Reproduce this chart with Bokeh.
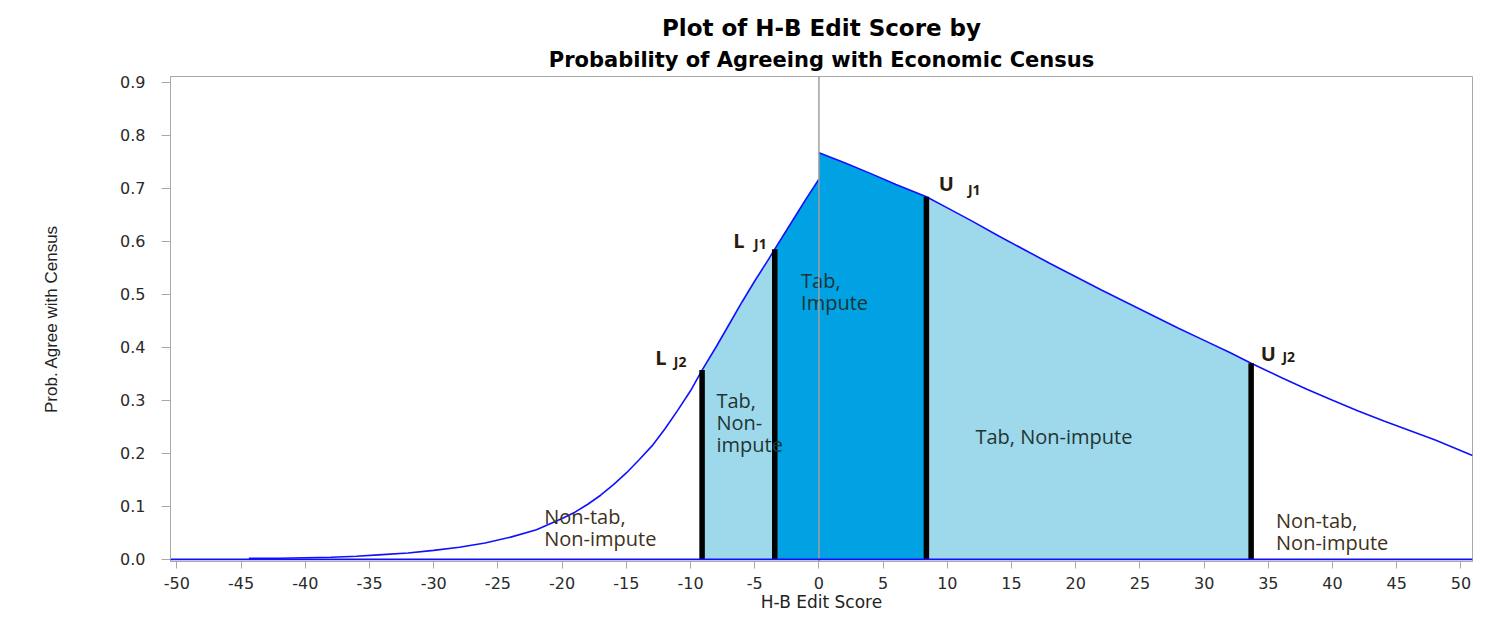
import numpy as np
from bokeh.plotting import figure
from bokeh.models import Range1d, FixedTicker, PrintfTickFormatter, Span, Title
from bokeh.core.properties import value
from bokeh.embed import file_html
from bokeh.resources import INLINE

# ---------------- data ----------------
title_line1 = "Plot of H-B Edit Score by"
title_line2 = "Probability of Agreeing with Economic Census"
x_label = "H-B Edit Score"
y_label = "Prob. Agree with Census"

# curve below zero score
left_x = [-44.4, -42, -40, -38, -36, -34, -32, -30, -28, -26, -24, -22, -20, -19, -18, -17, -16,
          -15, -14, -13, -12, -11, -10, -9.1, -8, -7, -6, -5, -4, -3.44, -2, -1, 0]
left_y = [0.002, 0.002, 0.003, 0.004, 0.006, 0.009, 0.012, 0.017, 0.023, 0.031, 0.042, 0.056, 0.077,
          0.089, 0.104, 0.121, 0.141, 0.163, 0.188, 0.214, 0.246, 0.281, 0.318, 0.357, 0.401, 0.443,
          0.485, 0.525, 0.563, 0.585, 0.641, 0.680, 0.717]
# curve above zero score
right_x = [0, 2, 4, 6, 8.37, 10, 12, 14, 16, 18, 20, 22, 24, 26, 28, 30, 32, 33.66, 36, 38, 40,
           42, 44, 46, 48, 50.9]
right_y = [0.767, 0.748, 0.728, 0.707, 0.684, 0.663, 0.637, 0.610, 0.584, 0.558, 0.533, 0.508, 0.484,
           0.460, 0.436, 0.413, 0.390, 0.370, 0.343, 0.321, 0.300, 0.280, 0.261, 0.243, 0.225, 0.196]

# cut-offs L_J2, L_J1, U_J1, U_J2
cut_letters = ["L", "L", "U", "U"]
cut_subs = ["J2", "J1", "J1", "J2"]
cut_x = [-9.1, -3.44, 8.37, 33.66]
cut_y = [0.357, 0.585, 0.684, 0.370]

x_ticks = [-50, -45, -40, -35, -30, -25, -20, -15, -10, -5, 0, 5, 10, 15, 20, 25, 30, 35, 40, 45, 50]
y_ticks = [0.0, 0.1, 0.2, 0.3, 0.4, 0.5, 0.6, 0.7, 0.8, 0.9]

region_labels = ["Non-tab,\nNon-impute", "Tab,\nNon-\nimpute", "Tab,\nImpute", "Tab, Non-impute", "Non-tab,\nNon-impute"]
# annotation anchors (top-left of each text block)
region_lx = [-21.4, -7.98, -1.39, 12.19, 35.6]
region_ly = [0.107, 0.326, 0.551, 0.258, 0.099]
letter_lx = [-12.74, -6.68, 9.33, 34.4]
letter_ly = [0.381, 0.601, 0.7095, 0.389]
sub_lx = [-11.3, -5.05, 11.6, 36.1]
sub_ly = [0.374, 0.595, 0.698, 0.382]

# ---------------- figure ----------------
p = figure(width=1483, height=615, output_backend="svg", toolbar_location=None,
           x_range=Range1d(-50.5, 50.9), y_range=Range1d(-0.004, 0.9107),
           min_border_left=170, min_border_right=11, min_border_top=76, min_border_bottom=54)
p.title = None
p.add_layout(Title(text=title_line2, align="center", text_font="DejaVu Sans",
                   text_font_size="21px", text_font_style="bold", text_color="black",
                   standoff=10), "above")
p.add_layout(Title(text=title_line1, align="center", text_font="DejaVu Sans",
                   text_font_size="23px", text_font_style="bold", text_color="black",
                   standoff=0), "above")

p.grid.visible = False
p.outline_line_color = "#a8a8a8"
p.outline_line_width = 1
p.background_fill_color = "white"
p.border_fill_color = "white"

for ax in (p.xaxis[0], p.yaxis[0]):
    ax.axis_line_color = "#a8a8a8"
    ax.major_tick_line_color = "#a8a8a8"
    ax.minor_tick_line_color = None
    ax.major_tick_in = 0
    ax.major_label_text_font = "DejaVu Sans"
    ax.major_label_text_font_size = "16px"
    ax.major_label_text_color = "#2a2a2a"
    ax.axis_label_text_font_style = "normal"
    ax.axis_label_text_color = "#222222"

p.xaxis.ticker = FixedTicker(ticks=x_ticks)
p.xaxis.formatter = PrintfTickFormatter(format="%d")
p.xaxis.major_tick_out = 7
p.xaxis.major_label_standoff = 8
p.xaxis.axis_label = x_label
p.xaxis.axis_label_text_font = "DejaVu Sans"
p.xaxis.axis_label_text_font_size = "17px"
p.xaxis.axis_label_standoff = 0

p.yaxis.ticker = FixedTicker(ticks=y_ticks)
p.yaxis.formatter = PrintfTickFormatter(format="%.1f")
p.yaxis.major_tick_out = 9
p.yaxis.major_label_standoff = 16
p.yaxis.axis_label = y_label
p.yaxis.axis_label_text_font = "Liberation Sans"
p.yaxis.axis_label_text_font_size = "17px"
p.yaxis.axis_label_standoff = 56


def piece(xs, ys, lo, hi, lo_y):
    px, py = [lo], [lo_y]
    for x, y in zip(xs, ys):
        if lo < x < hi:
            px.append(x)
            py.append(y)
    return px, py


# light region between L_J2 and L_J1
fx1, fy1 = piece(left_x, left_y, cut_x[0], cut_x[1], cut_y[0])
fx1.append(cut_x[1]); fy1.append(cut_y[1])
# dark region between L_J1 and U_J1 (jump at 0)
fx2 = [cut_x[1]] + [x for x in left_x if cut_x[1] < x <= 0] + [x for x in right_x if 0 <= x < cut_x[2]] + [cut_x[2]]
fy2 = [cut_y[1]] + [y for x, y in zip(left_x, left_y) if cut_x[1] < x <= 0] + \
      [y for x, y in zip(right_x, right_y) if 0 <= x < cut_x[2]] + [cut_y[2]]
# light region between U_J1 and U_J2
fx3, fy3 = piece(right_x, right_y, cut_x[2], cut_x[3], cut_y[2])
fx3.append(cut_x[3]); fy3.append(cut_y[3])

light = "#9dd9ea"
dark = "#00a2e3"
p.varea(x=fx1, y1=[0] * len(fx1), y2=fy1, fill_color=light)
p.varea(x=fx2, y1=[0] * len(fx2), y2=fy2, fill_color=dark)
p.varea(x=fx3, y1=[0] * len(fx3), y2=fy3, fill_color=light)

p.add_layout(Span(location=0, dimension="height", line_color="#a0a0a0", line_width=1.5))

curve_col = "#1010ff"
p.line(left_x, left_y, line_color=curve_col, line_width=1.6)
p.line(right_x, right_y, line_color=curve_col, line_width=1.6)
p.add_layout(Span(location=0, dimension="width", line_color=curve_col, line_width=1.6))

p.segment(x0=cut_x, y0=[0] * 4, x1=cut_x, y1=cut_y, line_color="black", line_width=5.5)

region_colors = ["#3e3220", "#1f3535", "#173535", "#1f3535", "#3e3220"]
p.text(x=region_lx, y=region_ly, text=region_labels, text_font=value("Open Sans"),
       text_font_size="20px", text_color=region_colors, text_align="left", text_baseline="top",
       text_line_height=0.82)

p.text(x=letter_lx, y=letter_ly, text=cut_letters, text_font=value("Open Sans"),
       text_font_size="20px", text_font_style="bold", text_color="#2a1c0c",
       text_align="left", text_baseline="alphabetic")
p.text(x=sub_lx, y=sub_ly, text=cut_subs, text_font=value("Open Sans"),
       text_font_size="14px", text_font_style="bold", text_color="#2a1c0c",
       text_align="left", text_baseline="alphabetic")

open("out.html", "w").write(file_html(p, INLINE))
